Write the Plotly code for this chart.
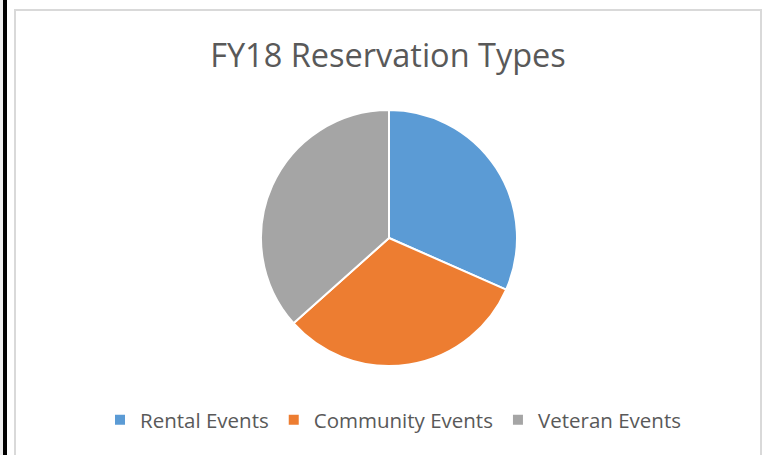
import plotly.graph_objects as go

# Reservation type shares
labels = ["Rental Events", "Community Events", "Veteran Events"]
values = [31.6, 31.8, 36.6]
colors = ["#5B9BD5", "#ED7D31", "#A5A5A5"]

W, H = 770, 455
TEXT = "#595959"
FONT = "Open Sans"

fig = go.Figure()

fig.add_trace(
    go.Pie(
        labels=labels,
        values=values,
        sort=False,
        direction="clockwise",
        rotation=0,
        textinfo="none",
        hoverinfo="label+percent",
        marker=dict(colors=colors, line=dict(color="white", width=2)),
        domain=dict(x=[261 / W, 517 / W], y=[1 - 366 / H, 1 - 110 / H]),
    )
)

fig.update_layout(
    width=W,
    height=H,
    margin=dict(l=0, r=0, t=0, b=0),
    paper_bgcolor="white",
    plot_bgcolor="white",
    font=dict(family=FONT, color=TEXT),
    title=dict(
        text="FY18 Reservation Types",
        font=dict(family=FONT, size=32.5, color=TEXT),
        x=388 / W,
        xanchor="center",
        y=1 - 56 / H,
        yanchor="middle",
    ),
    showlegend=True,
    legend=dict(
        orientation="h",
        x=393 / W,
        xanchor="center",
        y=1 - 420 / H,
        yanchor="middle",
        font=dict(family=FONT, size=20.5, color=TEXT),
        bgcolor="rgba(0,0,0,0)",
    ),
    shapes=[
        # chart area border
        dict(type="rect", xref="paper", yref="paper",
             x0=15 / W, x1=761 / W, y0=-0.05, y1=1 - 10 / H,
             line=dict(color="#D9D9D9", width=2)),
        # page strip and black rule on the left
        dict(type="rect", xref="paper", yref="paper",
             x0=0, x1=3 / W, y0=0, y1=1,
             fillcolor="#EEEEEE", line=dict(width=0)),
        dict(type="rect", xref="paper", yref="paper",
             x0=3 / W, x1=7 / W, y0=0, y1=1,
             fillcolor="black", line=dict(width=0)),
    ],
)

# drop the default page margin so the figure fills the window
fig.write_html(
    "out.html",
    config={"displayModeBar": False},
    post_script="document.body.style.margin='0px';",
)
